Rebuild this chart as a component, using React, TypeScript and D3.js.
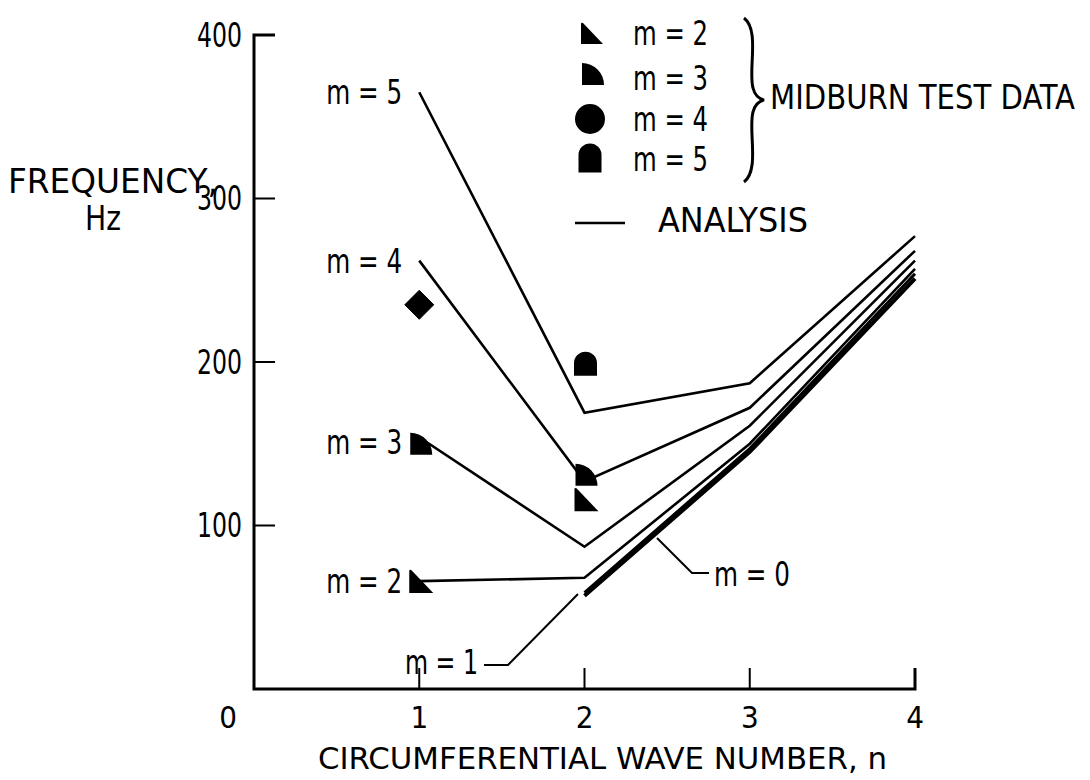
import React from "react";
import * as d3 from "d3";

// ---- data ----
const nAll = [1, 2, 3, 4];
const analysisM5 = [365, 169, 187, 277];
const analysisM4 = [262, 127, 172, 268];
const analysisM3 = [154, 87, 161, 262];
const analysisM2 = [66, 68, 150, 257];
const nLow = [2, 3, 4];
const analysisM1 = [59, 147, 254];
const analysisM0 = [57, 145, 251];

const testM2N = [1, 2];
const testM2F = [66, 116];
const testM3N = [1, 2];
const testM3F = [150, 131];
const testM4N = [1];
const testM4F = [235];
const testM5N = [2];
const testM5F = [199];

const xTicks = [1, 2, 3, 4];
const yTicks = [100, 200, 300, 400];
const legendLabels = ["m = 2", "m = 3", "m = 4", "m = 5"];

const W = 1090;
const H = 780;
const FONT = "'DejaVu Sans Condensed', 'Liberation Sans Narrow', 'DejaVu Sans', sans-serif";
const FS = 33;

const x = d3.scaleLinear().domain([0, 4]).range([254, 915]);
const y = d3.scaleLinear().domain([0, 400]).range([689, 35]);

// marker shapes centred at 0,0
const tri = (s: number) => `M${-s / 2},${s / 2}L${-s / 2},${-s / 2 + 2}Q${-s / 2},${-s / 2} ${-s / 2 + 2},${-s / 2 + 1}L${s / 2},${s / 2}Z`;
const quarter = (s: number) => `M${-s / 2},${s / 2}L${-s / 2},${-s / 2}A${s} ${s} 0 0 1 ${s / 2},${s / 2}Z`;
const dome = (w: number, h: number) =>
  `M${-w / 2},${h / 2}L${-w / 2},${-h / 2 + w / 2}A${w / 2} ${w / 2} 0 0 1 ${w / 2},${-h / 2 + w / 2}L${w / 2},${h / 2}Z`;
const diamond = (s: number) => `M0,${-s / 2}L${s / 2},0L0,${s / 2}L${-s / 2},0Z`;

const line = d3
  .line<[number, number]>()
  .x((d) => x(d[0]))
  .y((d) => y(d[1]));

const zip = (a: number[], b: number[]) => a.map((v, i) => [v, b[i]] as [number, number]);

export default function App() {
  const series = [analysisM5, analysisM4, analysisM3, analysisM2];
  const seriesLabels = ["m = 5", "m = 4", "m = 3", "m = 2"];
  return (
    <svg
      width={W}
      height={H}
      viewBox={`0 0 ${W} ${H}`}
      style={{ position: "absolute", left: 0, top: 0, background: "#fff" }}
      fontFamily={FONT}
    >
      <rect width={W} height={H} fill="#fff" />
      {/* axes */}
      <path
        d={`M${x(0) + 21},${y(400)}L${x(0)},${y(400)}L${x(0)},${y(0)}L${x(4)},${y(0)}L${x(4)},${y(0) - 21}`}
        fill="none"
        stroke="#000"
        strokeWidth={3}
      />
      {yTicks.slice(0, 3).map((t) => (
        <line key={t} x1={x(0)} x2={x(0) + 21} y1={y(t)} y2={y(t)} stroke="#000" strokeWidth={2} />
      ))}
      {xTicks.slice(0, 3).map((t) => (
        <line key={t} x1={x(t)} x2={x(t)} y1={y(0)} y2={y(0) - 21} stroke="#000" strokeWidth={2} />
      ))}
      {yTicks.map((t) => (
        <text key={t} x={x(0) - 12} y={y(t)} dy="0.36em" textAnchor="end" fontSize={FS} textLength={45} lengthAdjust="spacingAndGlyphs">
          {t}
        </text>
      ))}
      <text x={228} y={717} dy="0.36em" textAnchor="middle" fontSize={31}>0</text>
      {xTicks.map((t) => (
        <text key={t} x={x(t)} y={717} dy="0.36em" textAnchor="middle" fontSize={31}>
          {t}
        </text>
      ))}
      <text x={318} y={758} dy="0.36em" fontSize={31} textLength={569} lengthAdjust="spacingAndGlyphs">
        CIRCUMFERENTIAL WAVE NUMBER, n
      </text>
      <text x={8} y={181} dy="0.36em" fontSize={FS} textLength={210} lengthAdjust="spacingAndGlyphs">
        FREQUENCY,
      </text>
      <text x={85} y={218} dy="0.36em" fontSize={FS} textLength={36} lengthAdjust="spacingAndGlyphs">
        Hz
      </text>

      {/* analysis lines */}
      {series.map((s, i) => (
        <path key={i} d={line(zip(nAll, s)) || ""} fill="none" stroke="#000" strokeWidth={2.6} strokeLinejoin="miter" />
      ))}
      <path d={line(zip(nLow, analysisM1)) || ""} fill="none" stroke="#000" strokeWidth={3} />
      <path d={line(zip(nLow, analysisM0)) || ""} fill="none" stroke="#000" strokeWidth={4} />

      {/* line labels */}
      {series.map((s, i) => (
        <text key={i} x={x(1) - 17} y={y(s[0]) + (i === 2 ? 5 : 0)} dy="0.36em" textAnchor="end" fontSize={FS} textLength={76} lengthAdjust="spacingAndGlyphs">
          {seriesLabels[i]}
        </text>
      ))}
      <text x={405} y={662} dy="0.36em" fontSize={FS} textLength={73} lengthAdjust="spacingAndGlyphs">
        m = 1
      </text>
      <path d="M484,665L508,665L578,594" fill="none" stroke="#000" strokeWidth={2} />
      <text x={714} y={574} dy="0.36em" fontSize={FS} textLength={76} lengthAdjust="spacingAndGlyphs">
        m = 0
      </text>
      <path d="M657,538L692,573L709,573" fill="none" stroke="#000" strokeWidth={2} />

      {/* test data */}
      {testM2N.map((n, i) => (
        <path key={"a" + i} d={tri(24)} transform={`translate(${x(n) + 2},${y(testM2F[i])})`} fill="#000" />
      ))}
      {testM3N.map((n, i) => (
        <path key={"b" + i} d={quarter(22)} transform={`translate(${x(n) + 2},${y(testM3F[i])})`} fill="#000" />
      ))}
      {testM4N.map((n, i) => (
        <path key={"c" + i} d={diamond(29)} transform={`translate(${x(n)},${y(testM4F[i])})`} fill="#000" stroke="#000" strokeWidth={1} strokeLinejoin="round" />
      ))}
      {testM5N.map((n, i) => (
        <path key={"d" + i} d={dome(23, 24)} transform={`translate(${x(n) + 1},${y(testM5F[i])})`} fill="#000" />
      ))}

      {/* legend */}
      <path d={tri(22)} transform="translate(592,33)" fill="#000" />
      <path d={quarter(22)} transform="translate(593,74)" fill="#000" />
      <circle cx={590} cy={119} r={15} fill="#000" />
      <path d={dome(23, 29)} transform="translate(590,158)" fill="#000" />
      {legendLabels.map((l, i) => (
        <text key={l} x={633} y={[33, 78, 119, 159][i]} dy="0.36em" fontSize={FS} textLength={75} lengthAdjust="spacingAndGlyphs">
          {l}
        </text>
      ))}
      <path
        d="M744,18C760,30 748,70 753,88C755,96 760,99 764,100C760,101 755,104 753,112C748,130 760,170 744,182"
        fill="none"
        stroke="#000"
        strokeWidth={3}
      />
      <text x={770} y={97} dy="0.36em" fontSize={FS} textLength={305} lengthAdjust="spacingAndGlyphs">
        MIDBURN TEST DATA
      </text>
      <line x1={575} x2={625} y1={223} y2={223} stroke="#000" strokeWidth={2.5} />
      <text x={658} y={220} dy="0.36em" fontSize={FS} textLength={150} lengthAdjust="spacingAndGlyphs">
        ANALYSIS
      </text>
    </svg>
  );
}
